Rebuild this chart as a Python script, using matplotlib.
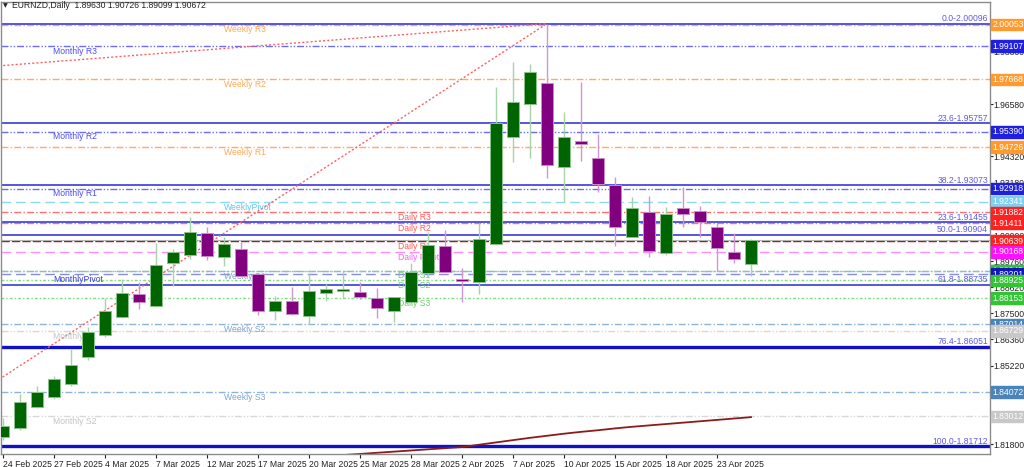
import matplotlib
matplotlib.use('Agg')
import matplotlib.pyplot as plt
import matplotlib.transforms as mtransforms

plt.rcParams['font.family'] = ['Liberation Sans', 'DejaVu Sans']

title = "EURNZD,Daily  1.89630 1.90726 1.89099 1.90672"

# ---- candle data (index 0 = 24 Feb 2025 ... 44 = 25 Apr 2025) ----
opens = [1.8212, 1.8251, 1.8344, 1.8387, 1.8442, 1.8561, 1.8655, 1.8735, 1.8834, 1.8781,
         1.8967, 1.9003, 1.9098, 1.8993, 1.9028, 1.8921, 1.8760, 1.8804, 1.8739, 1.8839,
         1.8848, 1.8844, 1.8815, 1.8760, 1.8800, 1.8924, 1.9042, 1.8900, 1.8887, 1.9051,
         1.9516, 1.9660, 1.9750, 1.9385, 1.9499, 1.9426, 1.9308, 1.9083, 1.9191, 1.9011,
         1.9206, 1.9195, 1.9126, 1.9018, 1.89630]
highs = [1.8294, 1.8399, 1.8434, 1.8477, 1.8593, 1.8691, 1.8815, 1.8897, 1.8887, 1.9054,
         1.9028, 1.9170, 1.9126, 1.9083, 1.9061, 1.8925, 1.8825, 1.8863, 1.8926, 1.8877,
         1.8935, 1.8886, 1.8860, 1.8822, 1.8967, 1.9102, 1.9112, 1.8945, 1.9141, 1.9735,
         1.9844, 1.9834, 2.00096, 1.9624, 1.9757, 1.9529, 1.9344, 1.9257, 1.9260, 1.9213,
         1.9298, 1.9216, 1.9141, 1.9098, 1.90726]
lows = [1.8199, 1.8242, 1.8338, 1.8377, 1.8433, 1.8547, 1.8647, 1.8729, 1.8767, 1.8778,
        1.8868, 1.8984, 1.8981, 1.8955, 1.8908, 1.8742, 1.8720, 1.8743, 1.8703, 1.8804,
        1.8815, 1.8811, 1.8728, 1.8713, 1.8795, 1.8913, 1.8928, 1.8800, 1.8832, 1.9045,
        1.9409, 1.9426, 1.9337, 1.9232, 1.9413, 1.9278, 1.9042, 1.9080, 1.8996, 1.9005,
        1.9124, 1.9080, 1.8935, 1.8970, 1.89099]
closes = [1.8258, 1.8364, 1.8409, 1.8463, 1.8524, 1.8670, 1.8760, 1.8839, 1.8798, 1.8960,
          1.9018, 1.9102, 1.8999, 1.9051, 1.8912, 1.8761, 1.8804, 1.8745, 1.8847, 1.8855,
          1.8856, 1.8822, 1.8774, 1.8819, 1.8928, 1.9047, 1.8931, 1.8890, 1.9073, 1.9576,
          1.9669, 1.9798, 1.9395, 1.9518, 1.9485, 1.9311, 1.9126, 1.9206, 1.9022, 1.9180,
          1.9181, 1.9148, 1.9035, 1.8986, 1.90672]

tick_positions = [0, 3, 6, 9, 12, 15, 18, 21, 24, 27, 30, 33, 36, 39, 42]
tick_labels = ["24 Feb 2025", "27 Feb 2025", "4 Mar 2025", "7 Mar 2025", "12 Mar 2025",
               "17 Mar 2025", "20 Mar 2025", "25 Mar 2025", "28 Mar 2025", "2 Apr 2025",
               "7 Apr 2025", "10 Apr 2025", "15 Apr 2025", "18 Apr 2025", "23 Apr 2025"]

y_ticks = [1.98860, 1.97720, 1.96580, 1.95440, 1.94320, 1.93180, 1.92040, 1.90900,
           1.89760, 1.88620, 1.87500, 1.86360, 1.85220, 1.84080, 1.82940, 1.81800]

# moving average (indices 18..44)
ma_x = list(range(18, 45))
ma_values = [1.8122, 1.8128, 1.8133, 1.8138, 1.8143, 1.8148, 1.8153, 1.8158, 1.8163, 1.8168,
             1.8178, 1.8188, 1.8198, 1.8208, 1.8217, 1.8226, 1.8234, 1.8241, 1.8249, 1.8256,
             1.8262, 1.8268, 1.8274, 1.8280, 1.8286, 1.8292, 1.8298]

# pivot levels
pivot_names = ["Weekly R3", "Monthly R3", "Weekly R2", "Monthly R2", "Weekly R1", "Monthly R1",
               "WeeklyPivot", "Daily R3", "Daily R2", "Daily R1", "Daily Pivot", "Weekly S1",
               "Daily S1", "MonthlyPivot", "Daily S2", "Daily S3", "Weekly S2", "Monthly S1",
               "Weekly S3", "Monthly S2"]
pivot_values = [2.00053, 1.99107, 1.97668, 1.95390, 1.94726, 1.92918,
                1.92341, 1.91882, 1.91411, 1.90639, 1.90168, 1.89320,
                1.89345, 1.89201, 1.88925, 1.88153, 1.87014, 1.86729,
                1.84072, 1.83012]

# fibonacci levels
fib_labels = ["0.0-2.00096", "23.6-1.95757", "38.2-1.93073", "23.6-1.91455", "50.0-1.90904",
              "61.8-1.88735", "76.4-1.86051", "100.0-1.81712"]
fib_values = [2.00096, 1.95757, 1.93073, 1.91455, 1.90904, 1.88735, 1.86051, 1.81712]

# fib trend lines (index, price)
trend1_x = [-6.3, 32]
trend1_y = [1.81712, 2.00096]
trend2_x = [-10, 32]
trend2_y = [1.97700, 2.00096]

bid_price = 1.90672

# ---- styles ----
DD = (0, (5, 1.6, 1, 1.6))
DDD = (0, (5, 1.4, 1, 1.4, 1, 1.4))
DASH = (0, (7, 3.5))
styles = {
    "Weekly":  dict(color='#ffad5c', ls=DD, box='#ff9a2e', text='#ffa851'),
    "WeeklyS": dict(color='#8fb3d6', ls=DD, box='#4a84bb', text='#7fa4cc'),
    "Monthly": dict(color='#6c6cf5', ls=DDD, box='#1f1fe0', text='#4c4cf0'),
    "MonthlyS": dict(color='#d8d8d8', ls=DDD, box='#c8c8c8', text='#c4c4c4'),
    "WeeklyPivot": dict(color='#8ad8f2', ls=DASH, box='#7fd0ee', text='#62c6ee'),
    "DailyR": dict(color='#ff7070', ls=DD, box='#ff2020', text='#ff5a5a'),
    "DailyR1": dict(color='#b01010', ls=(0, (6, 1.5)), box='#ff2020', text='#ff5a5a'),
    "DailyPivot": dict(color='#ff8cff', ls=DASH, box='#ff10ff', text='#ff5cff'),
    "MonthlyPivot": dict(color='#8a8ae0', ls=DASH, box='#1515c0', text='#3c3cdd'),
    "DailyS": dict(color='#7ddc7d', ls=(0, (2, 1.5, 1, 1.5)), box='#33c433', text='#6ccc6c'),
}


def style_of(name):
    if name == "WeeklyPivot":
        return styles["WeeklyPivot"]
    if name == "MonthlyPivot":
        return styles["MonthlyPivot"]
    if name == "Daily Pivot":
        return styles["DailyPivot"]
    if name == "Daily R1":
        return styles["DailyR1"]
    if name.startswith("Daily R"):
        return styles["DailyR"]
    if name.startswith("Daily S"):
        return styles["DailyS"]
    if name.startswith("Weekly S"):
        return styles["WeeklyS"]
    if name.startswith("Weekly"):
        return styles["Weekly"]
    if name.startswith("Monthly S"):
        return styles["MonthlyS"]
    return styles["Monthly"]


def text_x(name):
    if name.startswith("Monthly"):
        return 2.95
    if name.startswith("Weekly"):
        return 13.0
    return 23.25


FS = 6.2
W, H = 1024, 467
fig = plt.figure(figsize=(W / 100, H / 100), dpi=100)
ax = fig.add_axes([1 / W, 13 / H, 989 / W, 452 / H])
ax.set_xlim(-0.118, 58.06)
ax.set_ylim(1.81377, 2.01034)

# pivot lines and texts
for name, val in zip(pivot_names, pivot_values):
    st = style_of(name)
    ax.axhline(val, color=st['color'], linestyle=st['ls'], lw=1.0, zorder=1)
    ax.text(text_x(name), val - 0.0003, name, color=st['text'], fontsize=FS,
            ha='left', va='top', zorder=1.5)

# bid line
ax.axhline(bid_price, color='#b4b4b4', lw=0.8, zorder=1.2)

# fib lines
for lab, val in zip(fib_labels, fib_values):
    thick = val in (1.86051, 1.81712)
    ax.axhline(val, color='#1010c8' if thick else '#3a3ad8', lw=2.4 if thick else 1.2, zorder=1.3)
    ax.text(57.93, val + 0.0002, lab, color='#5c5ce0', fontsize=FS, ha='right', va='bottom', zorder=1.5)

# fib trend lines
ax.plot(trend1_x, trend1_y, color='#ff6060', ls=(0, (1.5, 1.5)), lw=1.0, zorder=1.4)
ax.plot(trend2_x, trend2_y, color='#ff6060', ls=(0, (1.5, 1.5)), lw=1.0, zorder=1.4)

# moving average
ax.plot(ma_x, ma_values, color='#8b1c1c', lw=1.3, zorder=2)

# candles
for i, (o, h, l, c) in enumerate(zip(opens, highs, lows, closes)):
    up = c >= o
    wick = '#a8d2a8' if up else '#cf96cf'
    body = '#006400' if up else '#800080'
    edge = '#8cc28c' if up else '#c88cc8'
    ax.vlines(i, l, h, color=wick, lw=1.0, zorder=3)
    bot = min(o, c)
    hgt = max(abs(c - o), 0.0004)
    ax.bar(i, hgt, bottom=bot, width=0.76, color=body, edgecolor=edge, linewidth=0.7, zorder=4)

# axes appearance
for sp in ax.spines.values():
    sp.set_color('#8c8c8c')
    sp.set_linewidth(1.0)

ax.yaxis.tick_right()
ax.set_yticks(y_ticks)
ax.set_yticklabels([f"{v:.5f}" for v in y_ticks])
ax.tick_params(axis='y', length=2, width=0.8, pad=0.8, labelsize=FS, colors='#222222')
ax.set_xticks(tick_positions)
ax.set_xticklabels(tick_labels)
ax.tick_params(axis='x', length=3, width=0.8, pad=1.0, labelsize=FS, colors='#222222')
for lbl in ax.get_xticklabels():
    lbl.set_ha('left')

# price boxes on right axis
trans = mtransforms.blended_transform_factory(ax.transAxes, ax.transData)
for name, val in zip(pivot_names, pivot_values):
    st = style_of(name)
    ax.text(1.0022, val, f"{val:.5f}", transform=trans, fontsize=FS, color='white',
            ha='left', va='center', clip_on=False, zorder=10,
            bbox=dict(boxstyle='square,pad=0.16', fc=st['box'], ec=st['box']))

# title
fig.text(3 / W, 1 - 6 / H, "\u25BC", fontsize=4.5, color='#222222', va='center', ha='left',
         family='DejaVu Sans')
fig.text(12 / W, 1 - 6 / H, title, fontsize=FS, color='#222222', va='center', ha='left')

fig.savefig('out.png', dpi=100)
